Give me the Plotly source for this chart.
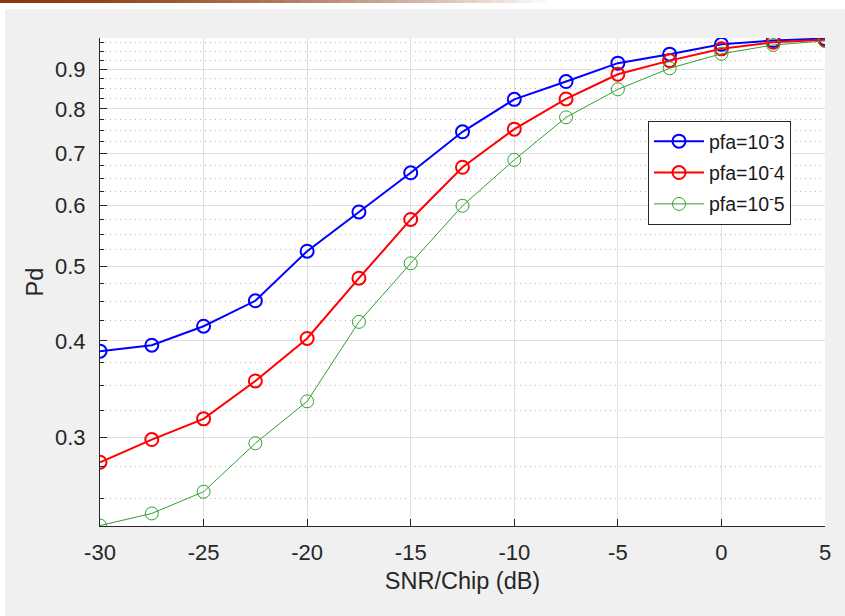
import plotly.graph_objects as go
import numpy as np

snr_db = [-30, -27.5, -25, -22.5, -20, -17.5, -15, -12.5, -10, -7.5, -5, -2.5, 0, 2.5, 5]
pd_pfa3 = [0.388, 0.395, 0.418, 0.451, 0.523, 0.588, 0.661, 0.747, 0.823, 0.868, 0.917, 0.942, 0.970, 0.981, 0.987]
pd_pfa4 = [0.2785, 0.298, 0.317, 0.355, 0.403, 0.4825, 0.575, 0.672, 0.753, 0.824, 0.887, 0.924, 0.957, 0.976, 0.983]
pd_pfa5 = [0.2305, 0.239, 0.255, 0.2947, 0.334, 0.4235, 0.5045, 0.599, 0.687, 0.780, 0.848, 0.903, 0.943, 0.968, 0.980]

series_names = ["pfa=10<sup>-</sup>3", "pfa=10<sup>-</sup>4", "pfa=10<sup>-</sup>5"]
y_major = [0.3, 0.4, 0.5, 0.6, 0.7, 0.8, 0.9]
y_major_text = ["0.3", "0.4", "0.5", "0.6", "0.7", "0.8", "0.9"]
y_minor = [0.25, 0.275, 0.325, 0.35, 0.375, 0.425, 0.45, 0.475, 0.525, 0.55, 0.575,
           0.625, 0.65, 0.675, 0.725, 0.75, 0.775, 0.825, 0.85, 0.875, 0.925, 0.95, 0.975]
x_ticks = [-30, -25, -20, -15, -10, -5, 0, 5]

W, H = 845, 616
L, R, T, B = 100, 20, 38, 90
pw, ph = W - L - R, H - T - B

def xp(px):
    return (px - L) / pw

def yp(py):
    return (H - B - py) / ph

fig = go.Figure()
styles = [("#0000ff", 2), ("#ff0000", 2), ("#30a030", 1)]
for i, (vals, name) in enumerate(zip([pd_pfa3, pd_pfa4, pd_pfa5], series_names)):
    col, lw = styles[i]
    fig.add_trace(go.Scatter(
        x=snr_db, y=vals, name=name, mode="lines+markers",
        line=dict(color=col, width=lw),
        marker=dict(symbol="circle-open", size=13, color=col, line=dict(width=lw, color=col)),
        legendgroup=f"g{i}",
    ))

font_fam = "Liberation Sans, Arial, sans-serif"
axis_col = "#262626"

shapes = []
# white outer border strips
shapes.append(dict(type="rect", xref="paper", yref="paper", x0=xp(0), x1=xp(5), y0=yp(H), y1=yp(0),
                   fillcolor="white", line=dict(width=0), layer="above"))
shapes.append(dict(type="rect", xref="paper", yref="paper", x0=xp(0), x1=xp(W), y0=yp(9), y1=yp(0),
                   fillcolor="white", line=dict(width=0), layer="above"))
# brown fading bar at very top
nseg = 40
start = np.array([139, 58, 15])
for k in range(nseg):
    t = k / nseg
    c = start + (np.array([255, 255, 255]) - start) * (t ** 1.6)
    shapes.append(dict(type="rect", xref="paper", yref="paper",
                       x0=xp(545 * k / nseg), x1=xp(545 * (k + 1) / nseg) + 0.001,
                       y0=yp(3), y1=yp(0),
                       fillcolor=f"rgb({int(c[0])},{int(c[1])},{int(c[2])})",
                       line=dict(width=0), layer="above"))

fig.update_layout(
    width=W, height=H,
    margin=dict(l=L, r=R, t=T, b=B, pad=0, autoexpand=False),
    paper_bgcolor="#f0f0f0", plot_bgcolor="white",
    font=dict(family=font_fam, color=axis_col),
    showlegend=True,
    legend=dict(x=xp(648), y=yp(121), xanchor="left", yanchor="top",
                bgcolor="white", bordercolor=axis_col, borderwidth=1,
                font=dict(size=19.5, family=font_fam, color="#1a1a1a"),
                tracegroupgap=3, itemwidth=50),
    shapes=shapes,
)

fig.update_xaxes(
    range=[-30, 5], tickmode="array", tickvals=x_ticks, ticktext=[str(v) for v in x_ticks],
    showgrid=True, gridcolor="#dfdfdf", gridwidth=1,
    zeroline=False, showline=True, linecolor=axis_col, linewidth=1, mirror=False,
    ticks="inside", ticklen=7, tickcolor=axis_col,
    tickfont=dict(size=22, family=font_fam, color=axis_col),
    ticklabelstandoff=7,
    title=dict(text="SNR/Chip (dB)", font=dict(size=23.5, family=font_fam, color=axis_col), standoff=8),
)

fig.update_yaxes(
    type="log", range=[np.log10(0.2302), np.log10(0.9885)],
    tickmode="array", tickvals=y_major, ticktext=y_major_text,
    showgrid=True, gridcolor="#dfdfdf", gridwidth=1,
    zeroline=False, showline=True, linecolor=axis_col, linewidth=1, mirror=False,
    ticks="inside", ticklen=7, tickcolor=axis_col,
    tickfont=dict(size=22, family=font_fam, color=axis_col),
    ticklabelstandoff=9,
    minor=dict(tickmode="array", tickvals=y_minor, showgrid=True, gridcolor="#b8b8b8",
               griddash="1px,4px", gridwidth=1, ticks="inside", ticklen=4, tickcolor=axis_col),
    title=dict(text="Pd", font=dict(size=23.5, family=font_fam, color=axis_col), standoff=4),
)

fig.write_html("out.html", config={"displayModeBar": False},
               post_script="document.body.style.margin='0px';document.body.style.padding='0px';document.body.style.overflow='hidden';")
